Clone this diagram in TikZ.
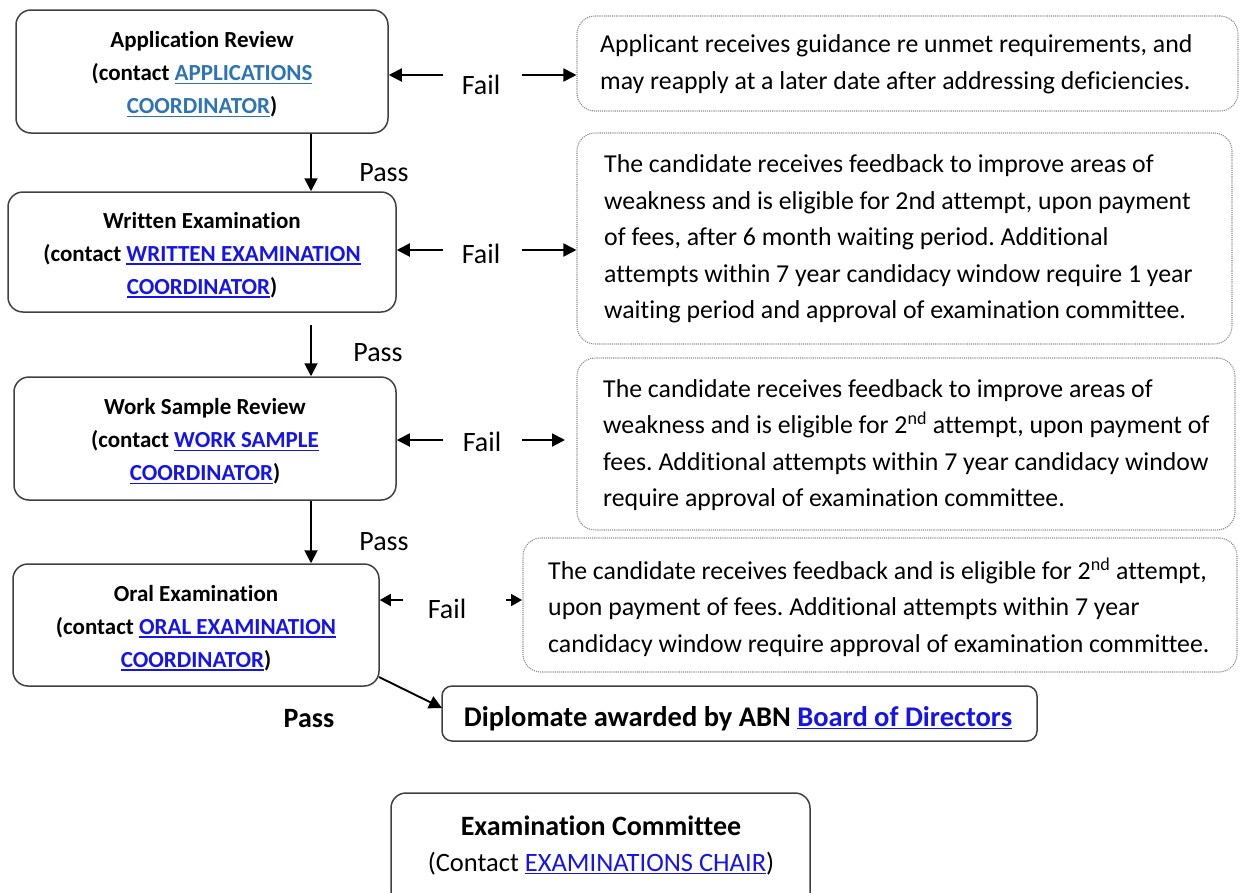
\documentclass[tikz,border=0pt]{standalone}
\usepackage{fontspec}
\setmainfont{Carlito}[Ligatures=NoCommon]
\usetikzlibrary{arrows.meta,fit}
\frenchspacing
\definecolor{linkA}{RGB}{46,116,181}
\definecolor{linkB}{RGB}{20,20,235}
\newcommand\lnk[2]{\textcolor{#1}{\setbox0\hbox{#2}\rlap{\rule[-3.2pt]{\wd0}{1.3pt}}\box0}}
\tikzset{
  mainbox/.style={draw=black!75, line width=1.5pt, rounded corners=15pt, inner sep=0pt},
  titletext/.style={inner sep=0pt, align=center, yshift=-3pt, font=\bfseries\fontsize{23}{33}\selectfont},
  notebox/.style={draw=black!45, densely dotted, line width=1.1pt, rounded corners=18pt, inner sep=0pt},
  notetext/.style={anchor=west, align=left, inner sep=0pt, font=\fontsize{25.8}{36.5}\selectfont},
  lab/.style={inner sep=0pt, font=\fontsize{28}{32}\selectfont},
  arr/.style={draw=black, line width=1.9pt, -{Triangle[length=13pt,width=13pt]}},
  sarr/.style={draw=black, line width=1.8pt, -{Triangle[length=11pt,width=12pt]}}
}
\begin{document}
\begin{tikzpicture}[x=1pt,y=-1pt]
\useasboundingbox (0,0) rectangle (1239,892);
\clip (0,0) rectangle (1239,892);
% main boxes
\node[mainbox, fit={(16,10) (388,133)}] (b1) {};
\node[titletext] (tb1) at (b1.center) {Application Review\\(contact \lnk{linkA}{APPLICATIONS}\\\lnk{linkA}{COORDINATOR})};
\node[mainbox, fit={(8,192) (396,312)}] (b2) {};
\node[titletext] (tb2) at (b2.center) {Written Examination\\(contact \lnk{linkB}{WRITTEN EXAMINATION}\\\lnk{linkB}{COORDINATOR})};
\node[mainbox, fit={(14,377) (396,500)}] (b3) {};
\node[titletext] (tb3) at (b3.center) {Work Sample Review\\(contact \lnk{linkB}{WORK SAMPLE}\\\lnk{linkB}{COORDINATOR})};
\node[mainbox, fit={(13,564) (379,686)}] (b4) {};
\node[titletext] (tb4) at (b4.center) {Oral Examination\\(contact \lnk{linkB}{ORAL EXAMINATION}\\\lnk{linkB}{COORDINATOR})};
\node[mainbox, rounded corners=10pt, fit={(442,686) (1037,741)}] (dip) {};
\node[titletext, font=\bfseries\fontsize{28.5}{32}\selectfont] (tdip) at (738,715.5) {Diplomate awarded by ABN \lnk{linkB}{Board of Directors}};
\node[mainbox, fit={(391,793) (810,915)}] (ec) {};
\node[inner sep=0pt, align=center, font=\fontsize{26.5}{36}\selectfont] (ect) at (601,845) {{\bfseries\fontsize{28}{36}\selectfont Examination Committee}\\(Contact \lnk{linkB}{EXAMINATIONS CHAIR})};
% note boxes
\node[notebox, fit={(577,16) (1238,111)}] (r1) {};
\node[notetext] (t1) at (600,64.5) {Applicant receives guidance re unmet requirements, and\\may reapply at a later date after addressing deficiencies.};
\node[notebox, fit={(577,133) (1232,344)}] (r2) {};
\node[notetext] (t2) at (604,239) {The candidate receives feedback to improve areas of\\weakness and is eligible for 2nd attempt, upon payment\\of fees, after 6 month waiting period. Additional\\attempts within 7 year candidacy window require 1 year\\waiting period and approval of examination committee.};
\node[notebox, fit={(577,358) (1235,530)}] (r3) {};
\node[notetext] (t3) at (603,445) {The candidate receives feedback to improve areas of\\weakness and is eligible for 2\textsuperscript{nd} attempt, upon payment of\\fees. Additional attempts within 7 year candidacy window\\require approval of examination committee.};
\node[notebox, fit={(523,538) (1237,672)}] (r4) {};
\node[notetext] (t4) at (548,607) {The candidate receives feedback and is eligible for 2\textsuperscript{nd} attempt,\\upon payment of fees. Additional attempts within 7 year\\candidacy window require approval of examination committee.};
% pass labels
\node[lab] (p1) at (384,173) {Pass};
\node[lab] (p2) at (378,353) {Pass};
\node[lab] (p3) at (384,542) {Pass};
\node[lab, font=\bfseries\fontsize{28}{32}\selectfont] (p4) at (309,719) {Pass};
% fail labels
\node[lab] (f1) at (481,85) {Fail};
\node[lab] (f2) at (481,254) {Fail};
\node[lab] (f3) at (482,442) {Fail};
\node[lab] (f4) at (447,609) {Fail};
% helper coordinates
\coordinate (vx) at (311,0);
\coordinate (a1l) at (443,75);
\coordinate (a1r) at (522,75);
\coordinate (a2l) at (443,250);
\coordinate (a2r) at (522,250);
\coordinate (a3l) at (443,440);
\coordinate (a3r) at (522,440);
\coordinate (a3e) at (565,440);
\coordinate (a4l) at (403,600);
\coordinate (a4r) at (506,600);
\coordinate (a4e) at (522,600);
\coordinate (s2) at (311,325);
\coordinate (b4o) at (379,677);
\coordinate (dipin) at (442,708);
% pass arrows
\draw[arr] (b1.south -| vx) -- (b2.north -| vx);
\draw[arr] (s2) -- (b3.north -| vx);
\draw[arr] (b3.south -| vx) -- (b4.north -| vx);
\draw[arr] (b4o) -- (dipin);
% fail arrows
\draw[arr] (a1l) -- (a1l -| b1.east);
\draw[arr] (a1r) -- (a1r -| r1.west);
\draw[arr] (a2l) -- (a2l -| b2.east);
\draw[arr] (a2r) -- (a2r -| r2.west);
\draw[arr] (a3l) -- (a3l -| b3.east);
\draw[arr] (a3r) -- (a3e);
\draw[sarr] (a4l) -- (a4l -| b4.east);
\draw[sarr] (a4r) -- (a4e);
\end{tikzpicture}
\end{document}
